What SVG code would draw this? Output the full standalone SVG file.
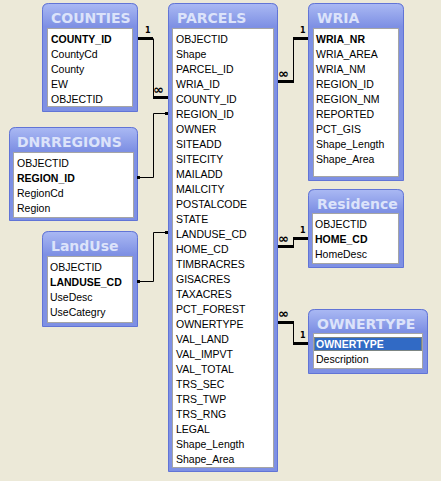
<svg xmlns="http://www.w3.org/2000/svg" width="441" height="481" viewBox="0 0 441 481">
<defs>
<linearGradient id="hdr" x1="0" y1="0" x2="0" y2="1">
<stop offset="0" stop-color="#A9B8F3"/>
<stop offset="1" stop-color="#7F91E4"/>
</linearGradient>
</defs>
<style>
.frame{fill:#7E90E4;stroke:#6174D6;stroke-width:1}
.hdr{fill:url(#hdr)}
.inner{fill:#FFFFFF;stroke:#A5A5A5;stroke-width:1}
.title{font-family:"DejaVu Sans",sans-serif;font-weight:bold;font-size:14px;fill:#DCE3FA}
.f{font-family:"Liberation Sans",Arial,sans-serif;font-size:10.5px;fill:#000}
.k{font-weight:bold}
.thin{stroke:#000;stroke-width:1;fill:none}
.thick{stroke:#000;stroke-width:3;fill:none}
.card{font-family:"DejaVu Sans",sans-serif;font-weight:bold;font-size:8px;fill:#000}
.inf{font-family:"DejaVu Sans",sans-serif;font-weight:bold;font-size:13px;fill:#000}
</style>
<rect x="0" y="0" width="441" height="481" fill="#ECE9D8"/>

<g id="COUNTIES">
<path class="frame" d="M42.5,111.5 V9.5 Q42.5,3.5 48.5,3.5 H131.5 Q137.5,3.5 137.5,9.5 V111.5 Z"/>
<path class="hdr" d="M43,26 V10 Q43,4 49,4 H131 Q137,4 137,10 V26 Z"/>
<rect class="inner" x="47.5" y="28.5" width="85" height="78"/>
<text class="title" x="51" y="23">COUNTIES</text>
<text class="f k" x="51" y="43">COUNTY_ID</text>
<text class="f" x="51" y="58">CountyCd</text>
<text class="f" x="51" y="73">County</text>
<text class="f" x="51" y="88">EW</text>
<text class="f" x="51" y="103">OBJECTID</text>
</g>

<g id="PARCELS">
<path class="frame" d="M168.5,471.5 V9.5 Q168.5,3.5 174.5,3.5 H271.5 Q277.5,3.5 277.5,9.5 V471.5 Z"/>
<path class="hdr" d="M169,26 V10 Q169,4 175,4 H271 Q277,4 277,10 V26 Z"/>
<rect class="inner" x="172.5" y="28.5" width="101" height="439"/>
<text class="title" x="177" y="23">PARCELS</text>
<text class="f" x="176" y="43">OBJECTID</text>
<text class="f" x="176" y="58">Shape</text>
<text class="f" x="176" y="73">PARCEL_ID</text>
<text class="f" x="176" y="88">WRIA_ID</text>
<text class="f" x="176" y="103">COUNTY_ID</text>
<text class="f" x="176" y="118">REGION_ID</text>
<text class="f" x="176" y="133">OWNER</text>
<text class="f" x="176" y="148">SITEADD</text>
<text class="f" x="176" y="163">SITECITY</text>
<text class="f" x="176" y="178">MAILADD</text>
<text class="f" x="176" y="193">MAILCITY</text>
<text class="f" x="176" y="208">POSTALCODE</text>
<text class="f" x="176" y="223">STATE</text>
<text class="f" x="176" y="238">LANDUSE_CD</text>
<text class="f" x="176" y="253">HOME_CD</text>
<text class="f" x="176" y="268">TIMBRACRES</text>
<text class="f" x="176" y="283">GISACRES</text>
<text class="f" x="176" y="298">TAXACRES</text>
<text class="f" x="176" y="313">PCT_FOREST</text>
<text class="f" x="176" y="328">OWNERTYPE</text>
<text class="f" x="176" y="343">VAL_LAND</text>
<text class="f" x="176" y="358">VAL_IMPVT</text>
<text class="f" x="176" y="373">VAL_TOTAL</text>
<text class="f" x="176" y="388">TRS_SEC</text>
<text class="f" x="176" y="403">TRS_TWP</text>
<text class="f" x="176" y="418">TRS_RNG</text>
<text class="f" x="176" y="433">LEGAL</text>
<text class="f" x="176" y="448">Shape_Length</text>
<text class="f" x="176" y="463">Shape_Area</text>
</g>

<g id="WRIA">
<path class="frame" d="M308.5,180.5 V9.5 Q308.5,3.5 314.5,3.5 H397.5 Q403.5,3.5 403.5,9.5 V180.5 Z"/>
<path class="hdr" d="M309,26 V10 Q309,4 315,4 H397 Q403,4 403,10 V26 Z"/>
<rect class="inner" x="313.5" y="28.5" width="85" height="148"/>
<text class="title" x="317" y="23">WRIA</text>
<text class="f k" x="316" y="43">WRIA_NR</text>
<text class="f" x="316" y="58">WRIA_AREA</text>
<text class="f" x="316" y="73">WRIA_NM</text>
<text class="f" x="316" y="88">REGION_ID</text>
<text class="f" x="316" y="103">REGION_NM</text>
<text class="f" x="316" y="118">REPORTED</text>
<text class="f" x="316" y="133">PCT_GIS</text>
<text class="f" x="316" y="148">Shape_Length</text>
<text class="f" x="316" y="163">Shape_Area</text>
</g>

<g id="DNRREGIONS">
<path class="frame" d="M9.5,220.5 V133.5 Q9.5,127.5 15.5,127.5 H131.5 Q137.5,127.5 137.5,133.5 V220.5 Z"/>
<path class="hdr" d="M10,150 V134 Q10,128 16,128 H131 Q137,128 137,134 V150 Z"/>
<rect class="inner" x="13.5" y="152.5" width="120" height="65"/>
<text class="title" x="17" y="147">DNRREGIONS</text>
<text class="f" x="17" y="167">OBJECTID</text>
<text class="f k" x="17" y="182">REGION_ID</text>
<text class="f" x="17" y="197">RegionCd</text>
<text class="f" x="17" y="212">Region</text>
</g>

<g id="LandUse">
<path class="frame" d="M42.5,326.5 V237.5 Q42.5,231.5 48.5,231.5 H131.5 Q137.5,231.5 137.5,237.5 V326.5 Z"/>
<path class="hdr" d="M43,254 V238 Q43,232 49,232 H131 Q137,232 137,238 V254 Z"/>
<rect class="inner" x="47.5" y="256.5" width="85" height="66"/>
<text class="title" x="51" y="251">LandUse</text>
<text class="f" x="50" y="271">OBJECTID</text>
<text class="f k" x="50" y="286">LANDUSE_CD</text>
<text class="f" x="50" y="301">UseDesc</text>
<text class="f" x="50" y="316">UseCategry</text>
</g>

<g id="Residence">
<path class="frame" d="M308.5,267.5 V195.5 Q308.5,189.5 314.5,189.5 H397.5 Q403.5,189.5 403.5,195.5 V267.5 Z"/>
<path class="hdr" d="M309,211 V196 Q309,190 315,190 H397 Q403,190 403,196 V211 Z"/>
<rect class="inner" x="312.5" y="213.5" width="86" height="50"/>
<text class="title" x="317" y="209">Residence</text>
<text class="f" x="315" y="228">OBJECTID</text>
<text class="f k" x="315" y="243">HOME_CD</text>
<text class="f" x="315" y="258">HomeDesc</text>
</g>

<g id="OWNERTYPE">
<path class="frame" d="M308.5,373.5 V315.5 Q308.5,309.5 314.5,309.5 H421.5 Q427.5,309.5 427.5,315.5 V373.5 Z"/>
<path class="hdr" d="M309,331 V316 Q309,310 315,310 H421 Q427,310 427,316 V331 Z"/>
<rect class="inner" x="313.5" y="333.5" width="109" height="35"/>
<text class="title" x="317" y="329">OWNERTYPE</text>
<rect x="314" y="337" width="108" height="14" fill="#316AC5"/>
<rect x="314.5" y="337.5" width="107" height="13" fill="none" stroke="#C8A040" stroke-width="1" stroke-dasharray="1,1"/>
<text class="f k" x="316" y="348" fill="#FFFFFF" style="fill:#FFFFFF">OWNERTYPE</text>
<text class="f" x="316" y="363">Description</text>
</g>

<g id="connectors">
<!-- COUNTIES - PARCELS -->
<path class="thick" d="M138,38.5 H153"/>
<path class="thin" d="M153.5,38.5 V97"/>
<path class="thick" d="M153,97.5 H168"/>
<text class="card" x="145" y="33">1</text>
<text class="inf" x="153" y="94">∞</text>
<!-- DNRREGIONS - PARCELS -->
<path class="thin" d="M137,177.5 H153.5 V113.5 H168"/>
<rect x="137" y="176" width="3" height="3" fill="#000"/>
<rect x="165" y="112" width="3" height="3" fill="#000"/>
<!-- LandUse - PARCELS -->
<path class="thin" d="M137,281.5 H153.5 V232.5 H168"/>
<rect x="137" y="280" width="3" height="3" fill="#000"/>
<rect x="165" y="231" width="3" height="3" fill="#000"/>
<!-- WRIA - PARCELS -->
<path class="thick" d="M293,38.5 H308"/>
<path class="thin" d="M293.5,38.5 V82"/>
<path class="thick" d="M278,81.5 H294"/>
<text class="card" x="300" y="33">1</text>
<text class="inf" x="278" y="78">∞</text>
<!-- PARCELS - Residence -->
<path class="thick" d="M278,246.5 H294"/>
<path class="thin" d="M293.5,246.5 V238.5"/>
<path class="thick" d="M293,238.5 H308"/>
<text class="card" x="300" y="233">1</text>
<text class="inf" x="278" y="243">∞</text>
<!-- PARCELS - OWNERTYPE -->
<path class="thick" d="M278,322.5 H294"/>
<path class="thin" d="M293.5,322.5 V343.5"/>
<path class="thick" d="M293,343.5 H308"/>
<text class="card" x="300" y="338">1</text>
<text class="inf" x="278" y="318">∞</text>
</g>
</svg>
